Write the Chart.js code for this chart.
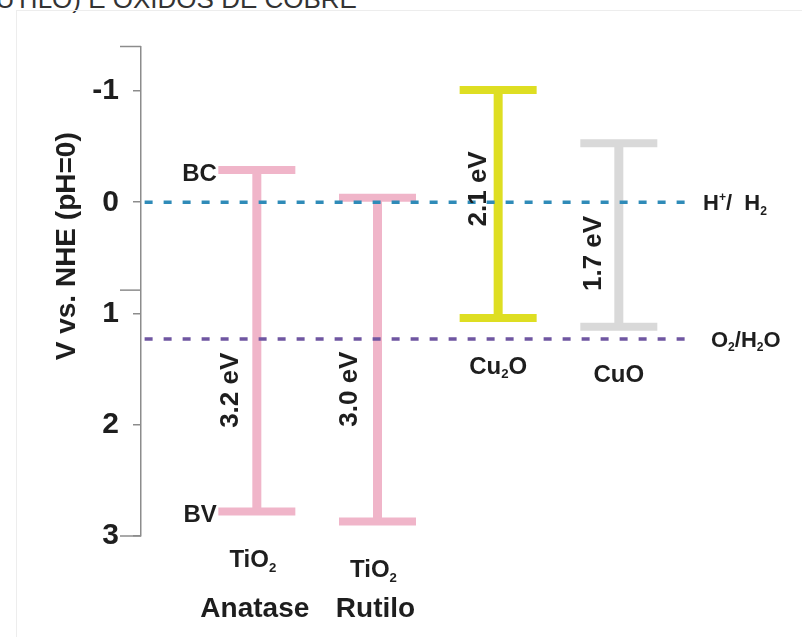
<!DOCTYPE html>
<html>
<head>
<meta charset="utf-8">
<script src="https://cdn.jsdelivr.net/npm/chart.js@4.4.1/dist/chart.umd.min.js"></script>
<style>
  html, body { margin: 0; padding: 0; background: #fff; }
  #pagina { position: relative; width: 802px; height: 637px; overflow: hidden; }
  #cabecalho { position: absolute; left: -23px; top: -14px; font: 26px "Liberation Sans", Arial, sans-serif; line-height: 26px; color: #333; white-space: nowrap; }
  #moldura { position: absolute; left: 16px; top: 10px; width: 820px; height: 700px; border: 1px solid #ededed; }
  #grafico { position: absolute; left: 0; top: 0; }
</style>
</head>
<body>
<div id="pagina">
  <div id="cabecalho">RUTILO) E ÓXIDOS DE COBRE</div>
  <div id="moldura"></div>
  <canvas id="grafico" width="802" height="637"></canvas>
</div>
<script>
// posições das bandas (V vs. NHE, pH=0)
const formulas = ['TiO2', 'TiO2', 'Cu2O', 'CuO'];
const fases = ['Anatase', 'Rutilo', '', ''];
const bandaConducao = [-0.29, -0.04, -1.01, -0.53];
const bandaValencia = [2.78, 2.87, 1.04, 1.12];
const gaps = ['3.2 eV', '3.0 eV', '2.1 eV', '1.7 eV'];

// potenciais redox da água
const paresRedox = ['H+/  H2', 'O2/H2O'];
const potencialRedox = [0, 1.23];

// eixo y
const ticksY = [-1, 0, 1, 2, 3];
const marcasLongas = [-1.4, 0.79, 3];

const FAMILIA = '"Liberation Sans", Arial, Helvetica, sans-serif';
const coresMaterial = ['#f0b5c9', '#f0b5c9', '#dede22', '#d9d9d9'];
const coresRedox = ['#2f8bb8', '#6f56a1'];
const X_MIN = -0.96, X_MAX = 3.59;

// onde ficam os rótulos (layout)
const rotulosGap = [{ dx: -26, y: 1.69 }, { dx: -28, y: 1.68 }, { dx: -19, y: -0.12 }, { dx: -25, y: 0.46 }];
const dxFormula = [-4, -4, 0, 0];
const dxRedox = [13, 21];

function partesQuimicas(txt) {
  return txt.split(/(\d|\+)/).filter(s => s !== '').map(s =>
    [s, /\d/.test(s) ? 'sub' : (s === '+' ? 'sup' : '')]);
}

function desenhaTexto(ctx, partes, x, y, tamanho, alinha) {
  const pedacos = partes.map(([t, tipo]) => {
    const s = tipo ? tamanho * 0.55 : tamanho;
    ctx.font = 'bold ' + s + 'px ' + FAMILIA;
    return { t, tipo, s, w: ctx.measureText(t).width };
  });
  const total = pedacos.reduce((a, p) => a + p.w, 0);
  let cx = alinha === 'center' ? x - total / 2 : (alinha === 'right' ? x - total : x);
  const base = y + tamanho * 0.36;
  ctx.textAlign = 'left';
  ctx.textBaseline = 'alphabetic';
  pedacos.forEach(p => {
    ctx.font = 'bold ' + p.s + 'px ' + FAMILIA;
    const dy = p.tipo === 'sub' ? tamanho * 0.2 : (p.tipo === 'sup' ? -tamanho * 0.42 : 0);
    ctx.fillText(p.t, cx, base + dy);
    cx += p.w;
  });
}

function textoVertical(ctx, txt, x, y, tamanho) {
  ctx.save();
  ctx.translate(x, y);
  ctx.rotate(-Math.PI / 2);
  ctx.font = 'bold ' + tamanho + 'px ' + FAMILIA;
  ctx.textAlign = 'center';
  ctx.textBaseline = 'middle';
  ctx.fillText(txt, 0, 0);
  ctx.restore();
}

const rotulos = {
  id: 'rotulos',
  afterDatasetsDraw(chart) {
    const ctx = chart.ctx;
    const sx = chart.scales.x, sy = chart.scales.y, area = chart.chartArea;
    ctx.save();
    ctx.fillStyle = '#1e1e1e';

    // marcas longas do eixo
    ctx.strokeStyle = '#8c8c8c';
    ctx.lineWidth = 1.5;
    marcasLongas.forEach(v => {
      const py = sy.getPixelForValue(v);
      ctx.beginPath();
      ctx.moveTo(area.left - 21, py);
      ctx.lineTo(area.left, py);
      ctx.stroke();
    });

    // título do eixo
    textoVertical(ctx, 'V vs. NHE (pH=0)', area.left - 74, (area.top + area.bottom) / 2 - 45, 28);

    formulas.forEach((f, i) => {
      const px = sx.getPixelForValue(i);
      const pBaixo = sy.getPixelForValue(bandaValencia[i]);
      desenhaTexto(ctx, partesQuimicas(f), px + dxFormula[i], pBaixo + 47, 24, 'center');
      if (fases[i]) desenhaTexto(ctx, [[fases[i], '']], px - 2, area.bottom + 71, 28, 'center');
      const r = rotulosGap[i];
      textoVertical(ctx, gaps[i], px + r.dx, sy.getPixelForValue(r.y), 26);
    });

    // BC / BV no anatase
    const xa = sx.getPixelForValue(0) - 40;
    desenhaTexto(ctx, [['BC', '']], xa, sy.getPixelForValue(bandaConducao[0]) + 2, 24, 'right');
    desenhaTexto(ctx, [['BV', '']], xa, sy.getPixelForValue(bandaValencia[0]) + 2, 24, 'right');

    paresRedox.forEach((p, i) => {
      desenhaTexto(ctx, partesQuimicas(p), area.right + dxRedox[i], sy.getPixelForValue(potencialRedox[i]), 22, 'left');
    });
    ctx.restore();
  }
};

const dsRedox = paresRedox.map((nome, i) => ({
  label: nome,
  data: [{ x: X_MIN + 0.03, y: potencialRedox[i] }, { x: X_MAX, y: potencialRedox[i] }],
  borderColor: coresRedox[i],
  borderWidth: 3.5,
  borderDash: [8, 11],
  pointRadius: 0,
  order: 0
}));

const dsBandas = formulas.map((nome, i) => ({
  label: nome + ' ' + fases[i],
  data: [{ x: i, y: bandaConducao[i] }, { x: i, y: bandaValencia[i] }],
  borderColor: coresMaterial[i],
  borderWidth: 9,
  borderCapStyle: 'butt',
  pointStyle: 'line',
  pointRadius: 38.5,
  pointBorderWidth: 8,
  pointBorderColor: coresMaterial[i],
  order: 1
}));

new Chart(document.getElementById('grafico'), {
  type: 'line',
  data: { datasets: dsRedox.concat(dsBandas) },
  options: {
    responsive: false,
    animation: false,
    events: [],
    layout: { padding: { left: 0, top: 43, bottom: 101, right: 112 } },
    plugins: { legend: { display: false }, tooltip: { enabled: false } },
    scales: {
      x: { type: 'linear', min: X_MIN, max: X_MAX, display: false },
      y: {
        type: 'linear',
        reverse: true,
        min: -1.4,
        max: 3,
        afterBuildTicks: s => { s.ticks = ticksY.map(v => ({ value: v })); },
        afterFit: s => { s.width = 141; },
        ticks: {
          font: { family: FAMILIA, size: 30, weight: 'bold' },
          color: '#1e1e1e',
          padding: 14,
          callback: v => String(v)
        },
        grid: { drawOnChartArea: false, drawTicks: true, tickLength: 8, color: '#8c8c8c', lineWidth: 1.5 },
        border: { display: true, color: '#8c8c8c', width: 1.5 }
      }
    }
  },
  plugins: [rotulos]
});
</script>
</body>
</html>
